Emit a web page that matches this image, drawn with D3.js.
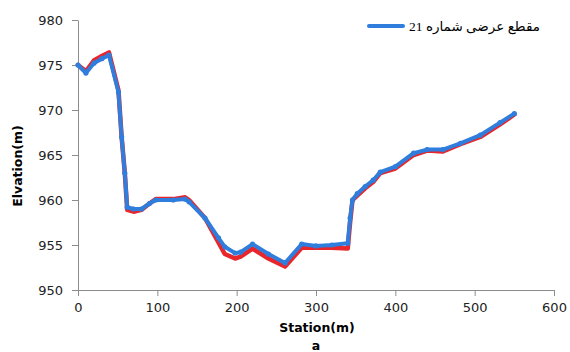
<!DOCTYPE html>
<html>
<head>
<meta charset="utf-8">
<script src="https://cdn.jsdelivr.net/npm/d3@7"></script>
<style>
  body { margin: 0; background: #fff; }
  .axis path, .axis line { stroke: #8c8c8c; }
  .axis text { font-family: "DejaVu Sans", Verdana, sans-serif; font-size: 13px; fill: #222; }
  .title { font-family: "DejaVu Sans", Verdana, sans-serif; font-weight: bold; font-size: 12.5px; fill: #000; }
</style>
</head>
<body>
<div id="chart"></div>
<script>
// station (m)
var stations = [0, 10, 20, 30, 39, 51, 55, 59, 62, 70, 80, 90, 98, 120, 135, 140, 160, 177, 185, 198, 205, 220, 240, 261, 282, 300, 320, 340, 343, 346, 352, 362, 372, 381, 400, 423, 440, 460, 482, 507, 532, 550];
// elevation (m), blue profile
var elevBlue = [975.0, 974.1, 975.2, 975.7, 976.1, 972.0, 967.0, 963.0, 959.2, 959.0, 959.0, 959.6, 960.0, 960.0, 960.1, 959.8, 958.0, 955.8, 954.8, 954.1, 954.2, 955.1, 954.0, 953.0, 955.1, 954.9, 955.0, 955.2, 958.0, 960.0, 960.7, 961.5, 962.2, 963.1, 963.7, 965.2, 965.6, 965.6, 966.3, 967.2, 968.6, 969.6];
// elevation (m), red profile
var elevRed = [975.0, 974.3, 975.5, 976.0, 976.4, 972.2, 967.0, 963.0, 958.9, 958.7, 958.9, 959.6, 960.1, 960.1, 960.3, 960.0, 958.0, 955.3, 954.0, 953.5, 953.7, 954.6, 953.5, 952.6, 954.7, 954.7, 954.7, 954.6, 957.5, 960.0, 960.5, 961.3, 962.0, 963.0, 963.5, 965.0, 965.5, 965.4, 966.2, 967.0, 968.4, 969.5];
var xTicks = [0, 100, 200, 300, 400, 500, 600];
var yTicks = [950, 955, 960, 965, 970, 975, 980];
var legendLabel = "مقطع عرضی شماره 21";

var w = 570, h = 352;
var margin = {left: 78, right: 16, top: 20, bottom: 62};

var svg = d3.select('#chart').append('svg')
  .attr('width', w)
  .attr('height', h);

var x = d3.scaleLinear().domain([0, 600]).range([margin.left, w - margin.right]);
var y = d3.scaleLinear().domain([950, 980]).range([h - margin.bottom, margin.top]);

svg.append('g')
  .attr('class', 'axis')
  .attr('transform', 'translate(0,' + y(950) + ')')
  .call(d3.axisBottom(x).tickValues(xTicks).tickSize(6).tickSizeOuter(0).tickPadding(7));

svg.append('g')
  .attr('class', 'axis')
  .attr('transform', 'translate(' + x(0) + ',0)')
  .call(d3.axisLeft(y).tickValues(yTicks).tickSize(6).tickSizeOuter(0).tickPadding(9));

svg.selectAll('.axis .domain').attr('stroke', '#8c8c8c');

var line = d3.line()
  .x(function(d) { return x(d[0]); })
  .y(function(d) { return y(d[1]); });

var redData = stations.map(function(s, i) { return [s, elevRed[i]]; });
var blueData = stations.map(function(s, i) { return [s, elevBlue[i]]; });

svg.append('path')
  .datum(redData)
  .attr('d', line)
  .attr('fill', 'none')
  .attr('stroke', '#e8262c')
  .attr('stroke-width', 4.5)
  .attr('stroke-linejoin', 'round')
  .attr('stroke-linecap', 'round');

svg.append('path')
  .datum(blueData)
  .attr('d', line)
  .attr('fill', 'none')
  .attr('stroke', '#2f7ddc')
  .attr('stroke-width', 4)
  .attr('stroke-linejoin', 'round')
  .attr('stroke-linecap', 'round');

svg.selectAll('.pt')
  .data(blueData)
  .enter().append('circle')
  .attr('class', 'pt')
  .attr('cx', function(d) { return x(d[0]); })
  .attr('cy', function(d) { return y(d[1]); })
  .attr('r', 2.6)
  .attr('fill', '#2f7ddc');

// axis titles
svg.append('text')
  .attr('class', 'title')
  .attr('transform', 'translate(22,' + 166 + ') rotate(-90)')
  .attr('text-anchor', 'middle')
  .text('Elvation(m)');

svg.append('text')
  .attr('class', 'title')
  .attr('x', 317)
  .attr('y', 332)
  .attr('text-anchor', 'middle')
  .text('Station(m)');

svg.append('text')
  .attr('class', 'title')
  .attr('x', 316)
  .attr('y', 350)
  .attr('text-anchor', 'middle')
  .text('a');

// legend
svg.append('line')
  .attr('x1', 369).attr('x2', 403)
  .attr('y1', 26).attr('y2', 26)
  .attr('stroke', '#2f7ddc')
  .attr('stroke-width', 4)
  .attr('stroke-linecap', 'round');

svg.append('text')
  .attr('x', 540)
  .attr('y', 31)
  .attr('direction', 'rtl')
  .attr('text-anchor', 'start')
  .style('font-family', '"Times New Roman", "Liberation Serif", "DejaVu Sans", serif')
  .style('font-size', '13.5px')
  .text(legendLabel);
</script>
</body>
</html>
